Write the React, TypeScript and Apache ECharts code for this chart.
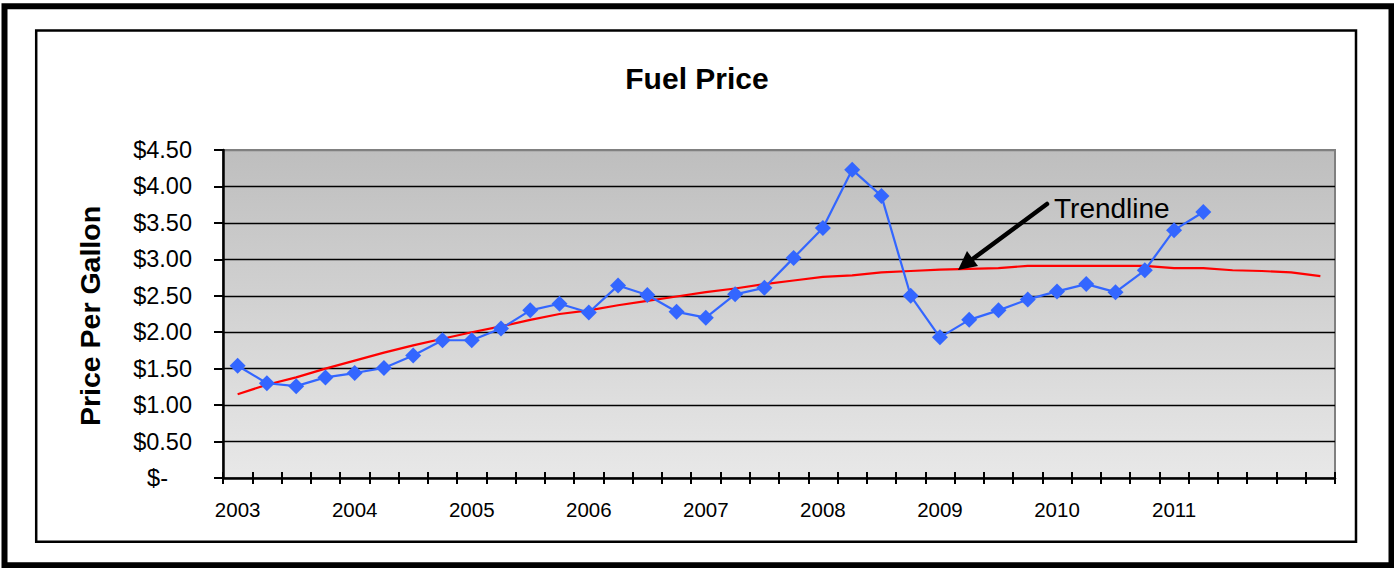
import React, { useEffect, useRef } from "react";
import * as echarts from "echarts";

// ---- Data ----
const years = ["2003", "2004", "2005", "2006", "2007", "2008", "2009", "2010", "2011", "2012"];
const quarters = ["Q1", "Q2", "Q3", "Q4"];
const categories: string[] = years
  .flatMap((y) => quarters.map((q) => `${y}-${q}`))
  .slice(0, 38);
const labeledYears = ["2003", "2004", "2005", "2006", "2007", "2008", "2009", "2010", "2011"];

const fuelPrice = [
  1.54, 1.3, 1.26, 1.38, 1.44, 1.51, 1.68, 1.89, 1.89, 2.05, 2.3, 2.39, 2.27, 2.64, 2.51, 2.28,
  2.2, 2.52, 2.61, 3.02, 3.43, 4.23, 3.87, 2.5, 1.93, 2.17, 2.3, 2.45, 2.56, 2.66, 2.55, 2.85,
  3.4, 3.65,
];
const trendline = [
  1.15, 1.28, 1.38, 1.5, 1.61, 1.72, 1.82, 1.91, 2.0, 2.08, 2.17, 2.25, 2.3, 2.37, 2.43, 2.49,
  2.55, 2.6, 2.66, 2.71, 2.76, 2.78, 2.82, 2.84, 2.86, 2.87, 2.88, 2.91, 2.91, 2.91, 2.91, 2.91,
  2.88, 2.88, 2.85, 2.84, 2.82, 2.77,
];
const yTicks = { min: 0, max: 4.5, interval: 0.5 };

const FONT = "'Liberation Sans', Arial, sans-serif";

export default function App() {
  const ref = useRef<HTMLDivElement>(null);

  useEffect(() => {
    if (!ref.current) return;
    const chart = echarts.init(ref.current, undefined, { renderer: "svg" });

    const splitColors: string[] = [];
    const nLines = Math.round((yTicks.max - yTicks.min) / yTicks.interval) + 1;
    for (let i = 0; i < nLines; i++) {
      splitColors.push(i === 0 ? "transparent" : i === nLines - 1 ? "#808080" : "#000000");
    }

    const xLabel = (v: string) => {
      const y = v.slice(0, 4);
      return v.endsWith("Q1") && labeledYears.includes(y) ? y : "";
    };

    const option: any = {
      animation: false,
      backgroundColor: "#ffffff",
      title: {
        text: "Fuel Price",
        left: "center",
        top: 58,
        textStyle: { fontFamily: FONT, fontSize: 30, fontWeight: "bold", color: "#000" },
      },
      grid: {
        left: 223,
        top: 150,
        width: 1112,
        height: 328,
        show: true,
        borderColor: "#808080",
        borderWidth: 2,
        backgroundColor: new echarts.graphic.LinearGradient(0, 0, 0, 1, [
          { offset: 0, color: "#bebebe" },
          { offset: 1, color: "#e8e8e8" },
        ]),
      },
      xAxis: [
        {
          type: "category",
          data: categories,
          boundaryGap: true,
          axisLine: { show: true, lineStyle: { color: "#000", width: 2.5 } },
          axisTick: { show: true, interval: 0, length: 6, lineStyle: { color: "#000", width: 2 } },
          axisLabel: {
            interval: 0,
            margin: 21,
            formatter: xLabel,
            fontFamily: FONT,
            fontSize: 20.5,
            color: "#000",
          },
          splitLine: { show: false },
        },
        {
          type: "category",
          data: categories,
          position: "bottom",
          boundaryGap: true,
          axisLine: { show: false },
          axisTick: { show: true, inside: true, interval: 0, length: 6, lineStyle: { color: "#000", width: 2 } },
          axisLabel: { show: false },
          splitLine: { show: false },
        },
      ],
      yAxis: {
        type: "value",
        min: yTicks.min,
        max: yTicks.max,
        interval: yTicks.interval,
        axisLine: { show: true, lineStyle: { color: "#000", width: 2.5 } },
        axisTick: { show: true, length: 9, lineStyle: { color: "#000", width: 2 } },
        axisLabel: {
          margin: 31,
          fontFamily: FONT,
          fontSize: 23.5,
          color: "#000",
          formatter: (v: number) => (v === 0 ? "{z|$-}" : "$" + v.toFixed(2)),
          rich: { z: { fontFamily: FONT, fontSize: 23.5, color: "#000", padding: [0, 24, 0, 0] } },
        },
        splitLine: { show: true, lineStyle: { color: splitColors, width: 1.3 } },
      },
      series: [
        {
          name: "Trendline",
          type: "line",
          data: trendline,
          symbol: "none",
          lineStyle: { color: "#ff0000", width: 2.2 },
          z: 2,
        },
        {
          name: "Fuel Price",
          type: "line",
          data: fuelPrice,
          symbol: "diamond",
          symbolSize: 16,
          itemStyle: { color: "#3366ff" },
          lineStyle: { color: "#3366ff", width: 2.2 },
          z: 3,
        },
      ],
      graphic: [
        {
          type: "rect",
          silent: true,
          shape: { x: 4.5, y: 6.3, width: 1387, height: 559 },
          style: { fill: "none", stroke: "#000", lineWidth: 6 },
        },
        {
          type: "rect",
          silent: true,
          shape: { x: 36.2, y: 30.5, width: 1319.8, height: 511.2 },
          style: { fill: "none", stroke: "#000", lineWidth: 2.5 },
        },
        {
          type: "text",
          silent: true,
          x: 90,
          y: 316,
          rotation: Math.PI / 2,
          style: {
            text: "Price Per Gallon",
            fontFamily: FONT,
            fontSize: 28.5,
            fontWeight: "bold",
            fill: "#000",
            align: "center",
            verticalAlign: "middle",
          },
        },
        {
          type: "line",
          silent: true,
          z: 10,
          shape: { x1: 1047, y1: 204, x2: 972, y2: 259.5 },
          style: { stroke: "#000", lineWidth: 4.5, lineCap: "round" },
        },
        {
          type: "polygon",
          silent: true,
          z: 10,
          shape: {
            points: [
              [958, 270],
              [978, 266],
              [967, 251],
            ],
          },
          style: { fill: "#000" },
        },
        {
          type: "text",
          silent: true,
          z: 10,
          x: 1054,
          y: 208,
          style: {
            text: "Trendline",
            fontFamily: FONT,
            fontSize: 28,
            fill: "#000",
            align: "left",
            verticalAlign: "middle",
          },
        },
      ],
    };

    chart.setOption(option);
    return () => chart.dispose();
  }, []);

  return (
    <div
      ref={ref}
      style={{ position: "absolute", left: 0, top: 0, width: 1394, height: 568, background: "#fff" }}
    />
  );
}
